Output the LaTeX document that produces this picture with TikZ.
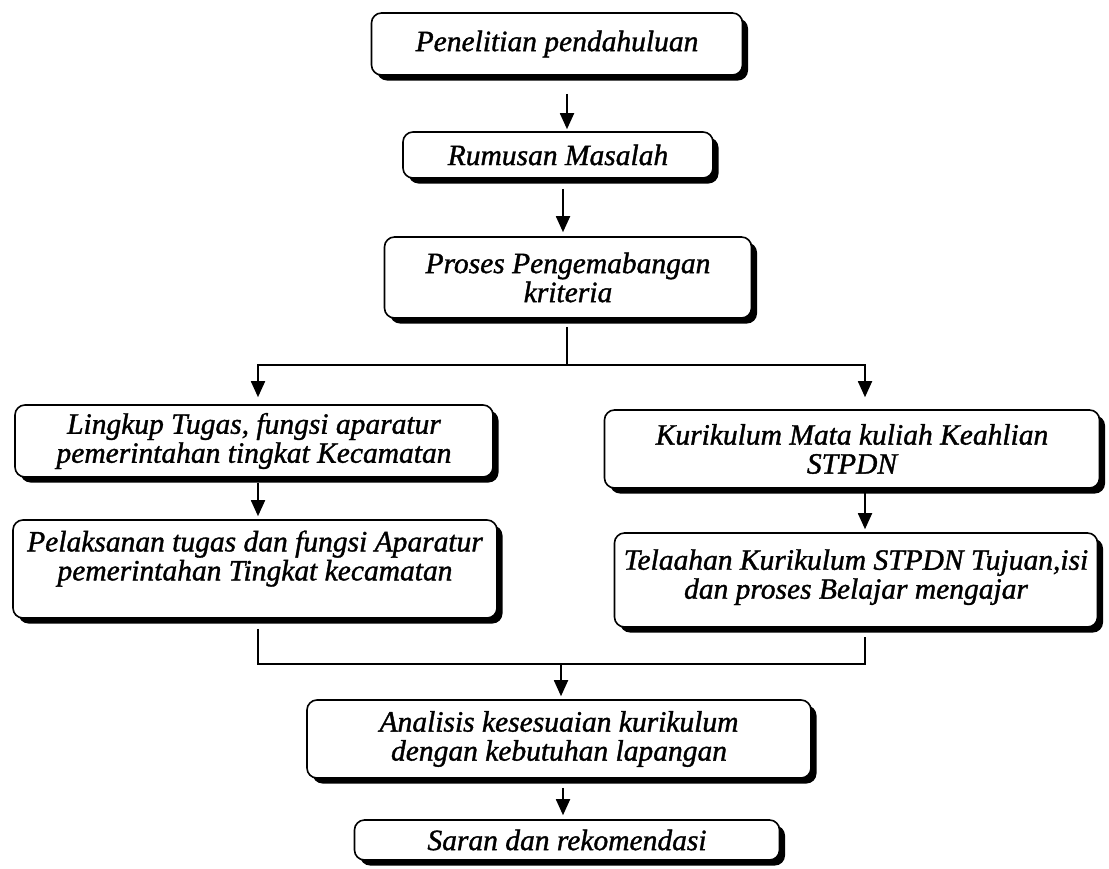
\documentclass[tikz,border=0pt]{standalone}
\usepackage{fontspec}
\setmainfont[ItalicFeatures={FakeBold=1.2}]{Liberation Serif}
\usetikzlibrary{shadows,arrows.meta,calc}
\begin{document}
\begin{tikzpicture}[x=1pt,y=-1pt,
  box/.style={draw=black, line width=1.6pt, rounded corners=10pt, fill=white,
    inner sep=2pt, align=center, font=\fontsize{29.5}{29}\selectfont\itshape,
    drop shadow={shadow xshift=5.5pt, shadow yshift=-5.5pt, fill=black, opacity=1}},
  arr/.style={line width=1.8pt, -{Triangle[width=14pt,length=16pt]}},
  ln/.style={line width=1.8pt}]
\useasboundingbox[fill=white] (0,0) rectangle (1109,868);

\node[box, minimum width=371pt, minimum height=62pt] (b1) at (557,44) {Penelitian pendahuluan};
\node[box, minimum width=310pt, minimum height=46pt] (b2) at (558,155) {Rumusan Masalah};
\node[box, minimum width=367pt, minimum height=81pt] (b3) at (568,277.5) {Proses Pengemabangan\\kriteria};
\node[box, minimum width=478pt, minimum height=72pt] (b4) at (254,441) {Lingkup Tugas, fungsi aparatur\\pemerintahan tingkat Kecamatan};
\node[box, minimum width=484pt, minimum height=98pt] (b5) at (255,569) {Pelaksanan tugas dan fungsi Aparatur\\pemerintahan Tingkat kecamatan\\[-2pt]\phantom{X}};
\node[box, minimum width=495pt, minimum height=78pt] (b6) at (852,449) {Kurikulum Mata kuliah Keahlian\\STPDN};
\node[box, minimum width=483pt, minimum height=94pt] (b7) at (856,580) {Telaahan Kurikulum STPDN Tujuan,isi\\dan proses Belajar mengajar\\[-17pt]\phantom{X}};
\node[box, minimum width=504pt, minimum height=78pt] (b8) at (559,739) {Analisis kesesuaian kurikulum\\dengan kebutuhan lapangan};
\node[box, minimum width=425pt, minimum height=40pt] (b9) at (567,840) {Saran dan rekomendasi};

\coordinate (j1) at (567,365);
\coordinate (j2) at (561,663);

\draw[arr] ($(b1.south)+(10,18)$) -- ($(b2.north)+(9,-2)$);
\draw[arr] ($(b2.south)+(5,10)$) -- ($(b3.north)+(-5,-4)$);
\draw[ln] ($(b3.south)+(-1,8)$) -- (j1);
\draw[arr] (j1) -| ($(b4.north)+(4,-7)$);
\draw[arr] (j1) -| ($(b6.north)+(13,-12)$);
\draw[arr] ($(b4.south)+(4,5)$) -- ($(b5.north)+(3,-3)$);
\draw[arr] ($(b6.south)+(13,4)$) -- ($(b7.north)+(9,-3)$);
\draw[ln] ($(b5.south)+(3,10)$) |- ($(b7.south)+(9,36)$) -- ($(b7.south)+(9,9)$);
\draw[arr] (j2) -- ($(b8.north)+(2,-3)$);
\draw[arr] ($(b8.south)+(4,9)$) -- ($(b9.north)+(-4,-4)$);
\end{tikzpicture}
\end{document}
